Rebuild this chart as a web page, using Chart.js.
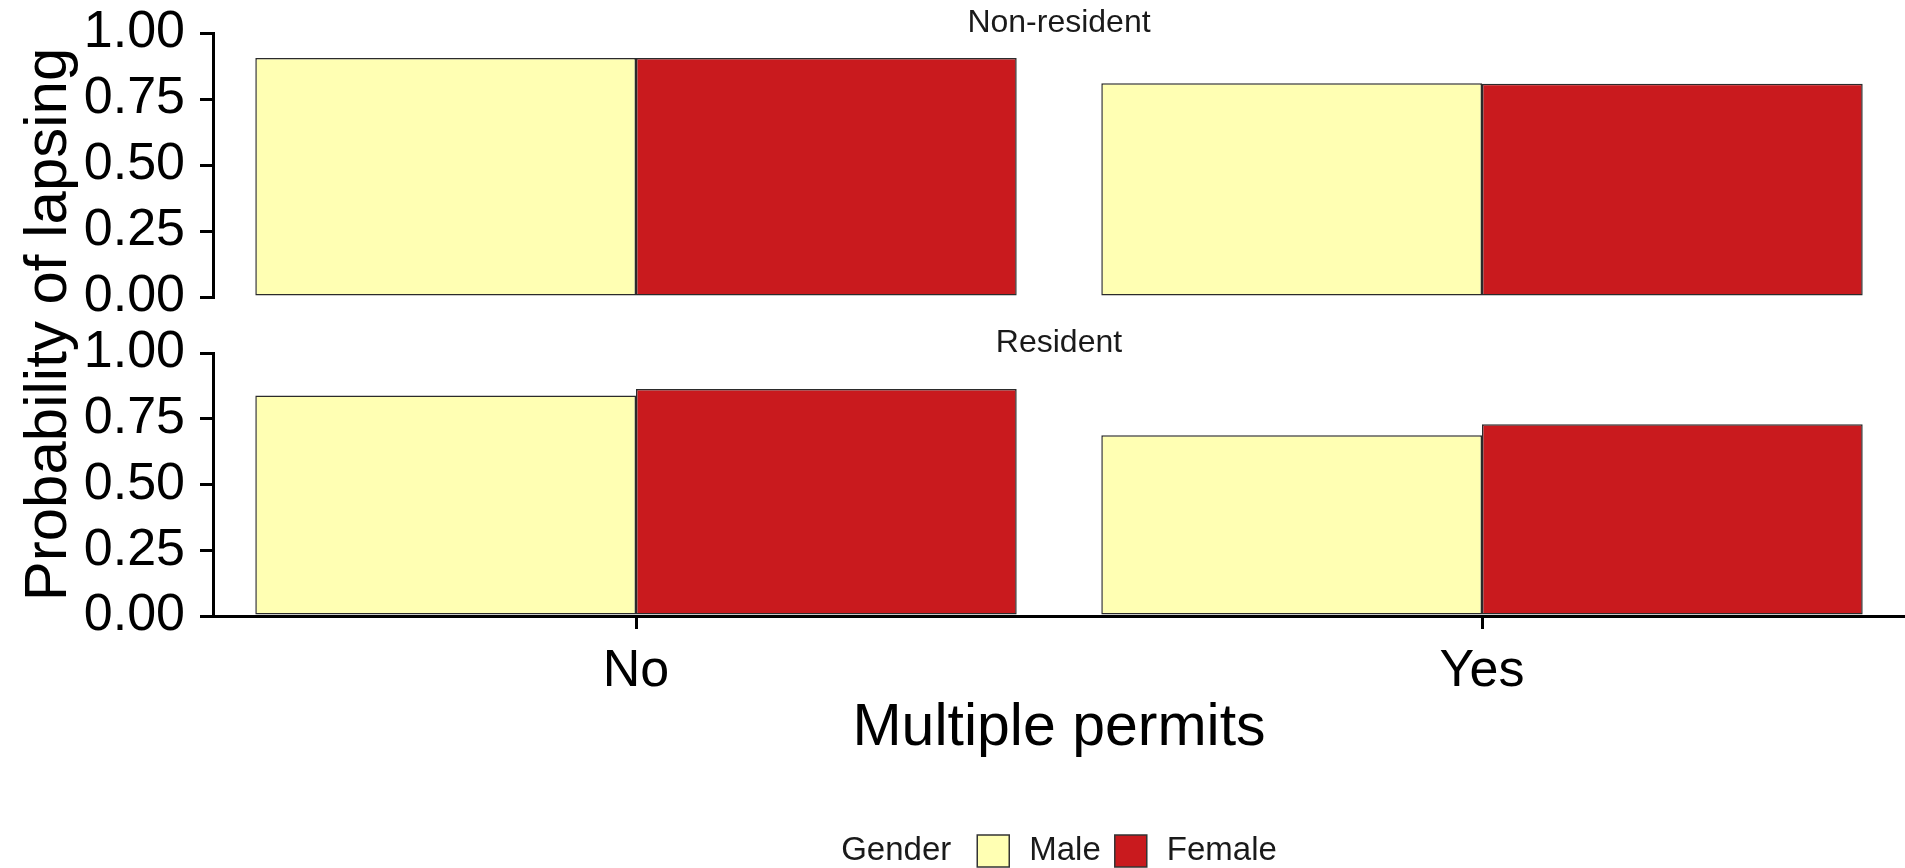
<!DOCTYPE html>
<html>
<head>
<meta charset="utf-8">
<title>Probability of lapsing</title>
<script src="https://cdn.jsdelivr.net/npm/chart.js@4.4.1/dist/chart.umd.min.js"></script>
<style>
    body { margin: 0; background: #fff; }
    #wrap { position: relative; width: 1905px; height: 868px; }
    #wrap canvas { position: absolute; left: 0; top: 0; }
</style>
</head>
<body>
<div id="wrap">
    <canvas id="nonResidentChart" width="1905" height="868"></canvas>
    <canvas id="residentChart" width="1905" height="868"></canvas>
</div>
<script>
var categories = ['No', 'Yes'];
var genders = ['Male', 'Female'];
var genderColors = ['#FFFFB3', '#C91A1E'];

// probability of lapsing, by multiple permits (No / Yes)
var nonResidentMale = [0.905, 0.81];
var nonResidentFemale = [0.905, 0.808];
var residentMale = [0.838, 0.687];
var residentFemale = [0.863, 0.729];

var yTicks = [0, 0.25, 0.5, 0.75, 1];

var FONT = '"Liberation Sans", Arial, Helvetica, sans-serif';
var AXIS_W = 213;

Chart.defaults.font.family = FONT;
Chart.defaults.color = '#000';

// strip label over each panel, plus shared axis titles and the gender legend on the lower chart
var panelText = {
    id: 'panelText',
    afterDraw: function (chart, args, opts) {
        var ctx = chart.ctx;
        var area = chart.chartArea;
        var cx = (area.left + area.right) / 2;
        ctx.save();
        ctx.fillStyle = '#1a1a1a';
        ctx.textAlign = 'center';
        ctx.textBaseline = 'middle';
        ctx.font = '32px ' + FONT;
        ctx.fillText(opts.strip, cx, area.top - 10);

        if (opts.shared) {
            var top = nonResidentChart.chartArea.top;
            ctx.fillStyle = '#000';
            ctx.font = '59px ' + FONT;
            ctx.fillText('Multiple permits', cx, 729);

            ctx.save();
            ctx.font = '60px ' + FONT;
            ctx.translate(49, (top + area.bottom) / 2);
            ctx.rotate(-Math.PI / 2);
            ctx.fillText('Probability of lapsing', 0, 0);
            ctx.restore();

            // legend: "Gender  [] Male  [] Female"
            var box = 32;
            ctx.font = '33px ' + FONT;
            ctx.textAlign = 'left';
            var items = genders;
            var w = ctx.measureText('Gender').width + 26;
            for (var i = 0; i < items.length; i++) {
                w += box + 20 + ctx.measureText(items[i]).width;
                if (i < items.length - 1) w += 14;
            }
            var x = cx - w / 2;
            var y = 851;
            ctx.fillStyle = '#1a1a1a';
            ctx.fillText('Gender', x, y);
            x += ctx.measureText('Gender').width + 26;
            for (var j = 0; j < items.length; j++) {
                ctx.fillStyle = genderColors[j];
                ctx.fillRect(x, y - box / 2, box, box);
                ctx.strokeStyle = '#333';
                ctx.lineWidth = 1.5;
                ctx.strokeRect(x, y - box / 2, box, box);
                x += box + 20;
                ctx.fillStyle = '#1a1a1a';
                ctx.fillText(items[j], x, y);
                x += ctx.measureText(items[j]).width + 14;
            }
        }
        ctx.restore();
    }
};

function barSet(label, data, color) {
    return {
        "label": label,
        "data": data,
        "backgroundColor": color,
        "borderColor": "#2b2b2b",
        "borderWidth": 1.5,
        "borderSkipped": false,
        "categoryPercentage": 0.9,
        "barPercentage": 1.0
    };
}

function yAxis() {
    return {
        min: 0,
        max: 1,
        afterFit: function (scale) {
            scale.width = AXIS_W;
            // tick labels may stick out above/below the panel
            scale.paddingTop = 0;
            scale.paddingBottom = 0;
        },
        afterBuildTicks: function (scale) {
            scale.ticks = yTicks.map(function (v) { return {value: v}; });
        },
        grid: {drawOnChartArea: false, drawTicks: true, tickLength: 13, color: '#000', lineWidth: 3},
        border: {display: true, color: '#000', width: 3},
        ticks: {
            autoSkip: false,
            padding: 15,
            color: '#000',
            font: {size: 52},
            callback: function (v) { return Number(v).toFixed(2); }
        }
    };
}

var nonResidentChart = new Chart(document.getElementById('nonResidentChart'), {
    type: 'bar',
    data: {
        labels: categories,
        datasets: [
            barSet(genders[0], nonResidentMale, genderColors[0]),
            barSet(genders[1], nonResidentFemale, genderColors[1])
        ]
    },
    options: {
        responsive: false,
        animation: false,
        layout: {padding: {top: 33, bottom: 571, left: 0, right: 0}},
        plugins: {
            legend: {display: false},
            tooltip: {enabled: false},
            panelText: {strip: 'Non-resident', shared: false}
        },
        scales: {
            x: {display: false, offset: true},
            y: yAxis()
        }
    },
    plugins: [panelText]
});

var residentChart = new Chart(document.getElementById('residentChart'), {
    type: 'bar',
    data: {
        labels: categories,
        datasets: [
            barSet(genders[0], residentMale, genderColors[0]),
            barSet(genders[1], residentFemale, genderColors[1])
        ]
    },
    options: {
        responsive: false,
        animation: false,
        layout: {padding: {top: 353, bottom: 155, left: 0, right: 0}},
        plugins: {
            legend: {display: false},
            tooltip: {enabled: false},
            panelText: {strip: 'Resident', shared: true}
        },
        scales: {
            x: {
                offset: true,
                afterFit: function (scale) { scale.height = 97; },
                grid: {offset: false, drawOnChartArea: false, drawTicks: true, tickLength: 13, color: '#000', lineWidth: 3},
                border: {display: true, color: '#000', width: 3},
                ticks: {padding: 11, color: '#000', font: {size: 52}},
                title: {display: false}
            },
            y: yAxis()
        }
    },
    plugins: [panelText]
});
</script>
</body>
</html>
